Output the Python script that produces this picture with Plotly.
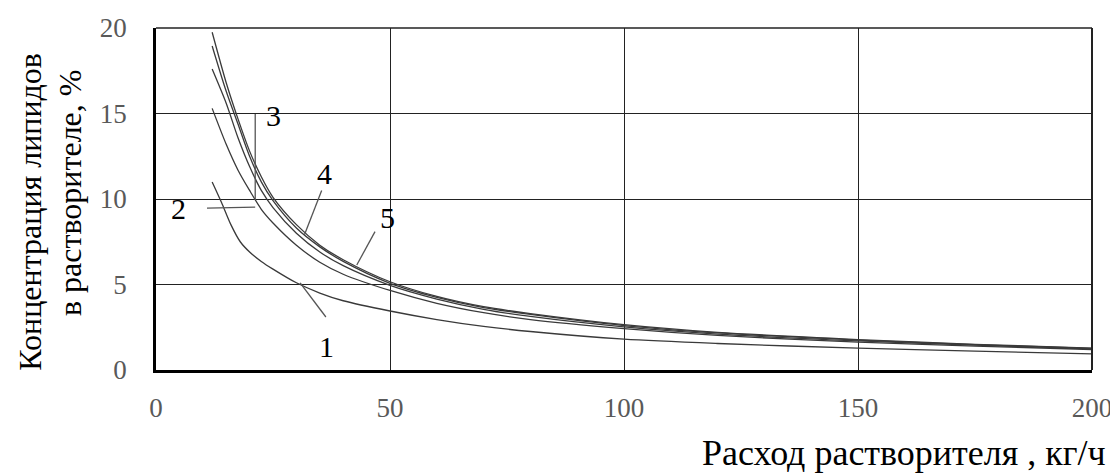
import plotly.graph_objects as go

# Solvent flow, kg/h (x) and lipid concentration, % (y) for curves 1..5
x_common = [12, 15, 17.5, 20, 22.5, 25, 30, 35, 40, 50, 60, 70, 80, 100, 120, 150, 175, 200]
curve5 = [19.75, 16.8, 14.7, 12.8, 11.3, 10.1, 8.5, 7.3, 6.45, 5.16, 4.3, 3.7, 3.3, 2.65, 2.2, 1.78, 1.5, 1.28]
curve4 = [18.95, 16.3, 14.4, 12.5, 11.0, 9.9, 8.3, 7.2, 6.35, 5.07, 4.25, 3.65, 3.25, 2.6, 2.17, 1.75, 1.48, 1.26]
curve3 = [17.6, 15.6, 13.6, 11.9, 10.5, 9.5, 8.0, 6.9, 6.1, 4.95, 4.15, 3.55, 3.13, 2.52, 2.1, 1.7, 1.45, 1.24]
curve2 = [15.3, 13.2, 11.7, 10.5, 9.4, 8.6, 7.3, 6.3, 5.6, 4.65, 3.9, 3.35, 2.95, 2.42, 2.02, 1.63, 1.4, 1.2]
x_curve1 = [12, 14, 16, 18, 20, 22.5, 25, 30, 35, 40, 50, 60, 70, 80, 100, 120, 150, 175, 200]
curve1 = [11.0, 9.8, 8.5, 7.5, 6.9, 6.35, 5.9, 5.1, 4.5, 4.05, 3.45, 2.95, 2.55, 2.25, 1.8, 1.55, 1.28, 1.1, 0.94]

x_ticks = [0, 50, 100, 150, 200]
y_ticks = [0, 5, 10, 15, 20]

# Curve labels and their leader lines (data coordinates)
label_text = ["1", "2", "3", "4", "5"]
label_x = [36.5, 4.8, 25.1, 35.9, 49.5]
label_y = [1.36, 9.45, 14.9, 11.5, 8.9]
leader_x0 = [30.8, 10.9, 21.2, 35.4, 46.8]
leader_y0 = [5.1, 9.47, 14.97, 10.5, 8.09]
leader_x1 = [36.3, 21.2, 21.2, 31.7, 42.9]
leader_y1 = [3.1, 9.53, 9.94, 7.9, 6.14]

x_title = "Расход растворителя , кг/ч"
y_title_1 = "Концентрация липидов"
y_title_2 = "в растворителе, %"

LINE = "#3a3a3a"
FONT = "Liberation Serif"

fig = go.Figure()
for ys, xs in [(curve1, x_curve1), (curve2, x_common), (curve3, x_common),
               (curve4, x_common), (curve5, x_common)]:
    fig.add_trace(go.Scatter(x=xs, y=ys, mode="lines",
                             line=dict(color=LINE, width=1.3, shape="spline", smoothing=0.8),
                             showlegend=False, hoverinfo="skip"))

for x0, y0, x1, y1 in zip(leader_x0, leader_y0, leader_x1, leader_y1):
    fig.add_shape(type="line", x0=x0, y0=y0, x1=x1, y1=y1, xref="x", yref="y",
                  line=dict(color="#555555", width=1.3))

# top and right frame lines
fig.add_shape(type="line", x0=0, y0=1, x1=1, y1=1, xref="paper", yref="paper",
              line=dict(color="#222222", width=1.6))
fig.add_shape(type="line", x0=1, y0=0, x1=1, y1=1, xref="paper", yref="paper",
              line=dict(color="#222222", width=2))

for t, lx, ly in zip(label_text, label_x, label_y):
    fig.add_annotation(x=lx, y=ly, xref="x", yref="y", text=t, showarrow=False,
                       font=dict(family=FONT, size=30, color="black"))

fig.add_annotation(x=1.017, y=-0.243, xref="paper", yref="paper", text=x_title,
                   showarrow=False, xanchor="right", yanchor="middle",
                   font=dict(family=FONT, size=36, color="black"))
fig.add_annotation(x=-0.135, y=0.462, xref="paper", yref="paper", text=y_title_1,
                   showarrow=False, textangle=-90, xanchor="center", yanchor="middle",
                   font=dict(family=FONT, size=32, color="black"))
fig.add_annotation(x=-0.092, y=0.52, xref="paper", yref="paper", text=y_title_2,
                   showarrow=False, textangle=-90, xanchor="center", yanchor="middle",
                   font=dict(family=FONT, size=32, color="black"))

# The page places the figure with an 8px body offset; margins compensate for it.
fig.update_layout(
    width=1118, height=475,
    margin=dict(l=148, r=34, t=20, b=113),
    paper_bgcolor="white", plot_bgcolor="white",
    font=dict(family=FONT),
    xaxis=dict(range=[0, 200], tickvals=x_ticks, showgrid=True, gridcolor="#222222", gridwidth=1.4,
               showline=True, linecolor="black", linewidth=2.5, mirror=False, zeroline=False,
               ticks="", ticklabelstandoff=12, automargin=False,
               tickfont=dict(family=FONT, size=27, color="#595959")),
    yaxis=dict(range=[0, 20], tickvals=y_ticks, showgrid=True, gridcolor="#222222", gridwidth=1.4,
               showline=True, linecolor="black", linewidth=2.5, mirror=False, zeroline=False,
               ticks="", ticklabelstandoff=21, automargin=False,
               tickfont=dict(family=FONT, size=27, color="#595959")),
)

fig.write_html("out.html")
